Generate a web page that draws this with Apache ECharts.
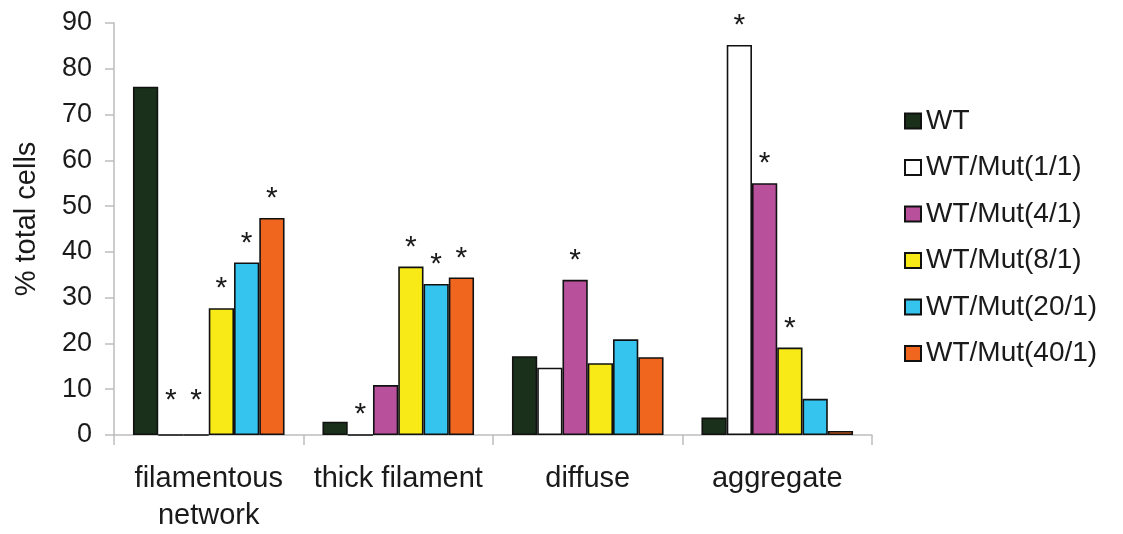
<!DOCTYPE html>
<html>
<head>
<meta charset="utf-8">
<script src="https://cdn.jsdelivr.net/npm/echarts@6/dist/echarts.min.js"></script>
<style>html,body{margin:0;padding:0;background:#fff;}#c{width:1123px;height:534px;}</style>
</head>
<body>
<div id="c"></div>
<script>
const categories = ['filamentous\nnetwork', 'thick filament', 'diffuse', 'aggregate'];
const seriesNames = ['WT', 'WT/Mut(1/1)', 'WT/Mut(4/1)', 'WT/Mut(8/1)', 'WT/Mut(20/1)', 'WT/Mut(40/1)'];
const wt      = [76.1, 2.9, 17.2, 3.8];
const mut1_1  = [0, 0, 14.7, 85.2];
const mut4_1  = [0, 10.9, 33.9, 55.0];
const mut8_1  = [27.7, 36.8, 15.7, 19.1];
const mut20_1 = [37.7, 33.0, 20.9, 7.9];
const mut40_1 = [47.4, 34.4, 17.0, 0.9];
// significance marks (*) per series per category
const sigWt      = [0, 0, 0, 0];
const sigMut1_1  = [1, 1, 0, 1];
const sigMut4_1  = [1, 0, 1, 1];
const sigMut8_1  = [1, 1, 0, 1];
const sigMut20_1 = [1, 1, 0, 0];
const sigMut40_1 = [1, 1, 0, 0];
const yTicks = [0, 10, 20, 30, 40, 50, 60, 70, 80, 90];

const values = [wt, mut1_1, mut4_1, mut8_1, mut20_1, mut40_1];
const sigs = [sigWt, sigMut1_1, sigMut4_1, sigMut8_1, sigMut20_1, sigMut40_1];
const colors = ['#1b301b', '#ffffff', '#b9509c', '#f7ea16', '#35c4ee', '#f0661f'];
const FONT = '"Liberation Sans", Arial, sans-serif';
const TXT = '#1a1a1a';

const series = values.map((vals, si) => ({
  name: seriesNames[si],
  type: 'bar',
  barGap: '0%',
  barCategoryGap: '20%',
  itemStyle: { color: colors[si], borderColor: '#111', borderWidth: 1.6 },
  emphasis: { disabled: true },
  data: vals.map((v, ci) => {
    const s = sigs[si][ci];
    const lift = (v === 0 && ci === 0) ? 18 : 4;
    return {
      value: v,
      label: {
        show: !!s,
        position: 'top',
        distance: lift,
        formatter: '*',
        fontSize: 30,
        fontFamily: FONT,
        color: TXT
      }
    };
  })
}));

const chart = echarts.init(document.getElementById('c'), null, { renderer: 'canvas' });
chart.setOption({
  animation: false,
  backgroundColor: '#fff',
  grid: { left: 114, right: 251, top: 23, bottom: 93, containLabel: false },
  legend: {
    orient: 'vertical',
    left: 899,
    top: 102,
    itemWidth: 16,
    itemHeight: 15,
    itemGap: 18.5,
    icon: 'rect',
    data: seriesNames,
    textStyle: { fontSize: 28, lineHeight: 28, fontFamily: FONT, color: TXT }
  },
  xAxis: {
    type: 'category',
    data: categories,
    axisLine: { lineStyle: { color: '#bdbdbd', width: 1.5 } },
    axisTick: { show: true, length: 10, lineStyle: { color: '#bdbdbd', width: 1.5 } },
    axisLabel: { fontSize: 29, fontFamily: FONT, color: TXT, margin: 25, lineHeight: 37, interval: 0 }
  },
  yAxis: {
    type: 'value',
    min: 0,
    max: 90,
    interval: 10,
    name: '% total cells',
    nameLocation: 'middle',
    nameGap: 73,
    nameTextStyle: { fontSize: 29, fontFamily: FONT, color: TXT, padding: [0, 0, 0, 20] },
    axisLine: { show: true, lineStyle: { color: '#bdbdbd', width: 1.5 } },
    axisTick: { show: true, length: 9, lineStyle: { color: '#bdbdbd', width: 1.5 } },
    axisLabel: { fontSize: 27, fontFamily: FONT, color: TXT, margin: 22,
      formatter: v => yTicks.includes(v) ? String(v) : '' },
    splitLine: { show: false }
  },
  series: series
});
</script>
</body>
</html>
